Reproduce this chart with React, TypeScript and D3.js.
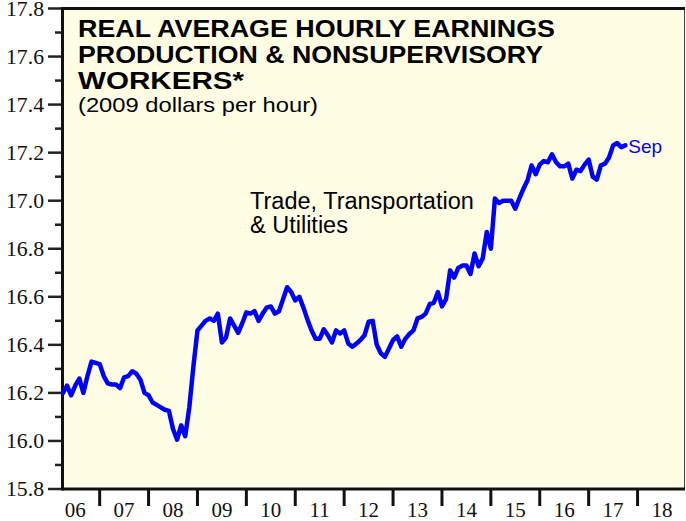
import React from "react";
import * as d3 from "d3";

// Monthly data, Mar 2006 .. Sep 2017
const START_YEAR = 2006;
const START_MONTH = 3;
const values: number[] = [
  16.20, 16.23, 16.19, 16.23, 16.26, 16.20, 16.27, 16.33, 16.325, 16.32,
  16.27, 16.24, 16.235, 16.235, 16.22, 16.265, 16.27, 16.29, 16.28, 16.255,
  16.20, 16.19, 16.16, 16.15, 16.14, 16.13, 16.125, 16.05, 16.005, 16.065,
  16.02, 16.14, 16.31, 16.46, 16.48, 16.50, 16.51, 16.50, 16.53, 16.41,
  16.43, 16.51, 16.48, 16.45, 16.49, 16.535, 16.53, 16.54, 16.50, 16.53,
  16.555, 16.56, 16.53, 16.54, 16.59, 16.64, 16.62, 16.585, 16.60, 16.555,
  16.505, 16.46, 16.425, 16.425, 16.465, 16.44, 16.41, 16.46, 16.447, 16.46,
  16.406, 16.392, 16.405, 16.42, 16.44, 16.496, 16.50, 16.40, 16.365, 16.35,
  16.385, 16.42, 16.435, 16.392, 16.425, 16.445, 16.46, 16.51, 16.516, 16.53,
  16.57, 16.575, 16.62, 16.56, 16.59, 16.71, 16.68, 16.72, 16.73, 16.73,
  16.695, 16.78, 16.727, 16.76, 16.87, 16.80, 17.009, 16.99, 17.00, 17.00,
  17.00, 16.967, 17.01, 17.05, 17.085, 17.147, 17.11, 17.15, 17.165, 17.16,
  17.193, 17.16, 17.143, 17.143, 17.154, 17.092, 17.129, 17.123, 17.15, 17.171,
  17.10, 17.088, 17.147, 17.154, 17.18, 17.23, 17.24, 17.223, 17.23,
];
const yearLabels = ["06", "07", "08", "09", "10", "11", "12", "13", "14", "15", "16", "17", "18"];
const yTicks = [15.8, 16.0, 16.2, 16.4, 16.6, 16.8, 17.0, 17.2, 17.4, 17.6, 17.8];
const yMinor = [15.9, 16.1, 16.3, 16.5, 16.7, 16.9, 17.1, 17.3, 17.5, 17.7];
const titleLines = ["REAL AVERAGE HOURLY EARNINGS", "PRODUCTION & NONSUPERVISORY", "WORKERS*"];
const subtitle = "(2009 dollars per hour)";
const seriesLabel = ["Trade, Transportation", "& Utilities"];
const endLabel = "Sep";

const W = 686, H = 521;
const L = 62.5, R = 684.5, T = 8.5, B = 489;

export default function App() {
  const x = d3.scaleLinear().domain([2006.24, 2018.96]).range([L, R]);
  const y = d3.scaleLinear().domain([15.8, 17.8]).range([B, T]);
  const pts = values.map((v, i) => {
    const m = START_MONTH + i;
    const t = START_YEAR + m / 12;
    return [x(t), y(v)] as [number, number];
  });
  const line = d3.line().curve(d3.curveLinear)(pts) || "";
  const last = pts[pts.length - 1];
  const serif = "'Liberation Serif', 'Times New Roman', serif";
  const sans = "'Liberation Sans', Arial, Helvetica, sans-serif";
  const titleLens = [477, 465, 166];

  return (
    <svg width={W} height={H} style={{ position: "absolute", left: 0, top: 0, background: "#fff" }}>
      <rect x={L} y={T} width={R - L} height={B - T} fill="#FFFEE4" />
      {/* y ticks */}
      {yTicks.map((v) => (
        <g key={"y" + v}>
          <line x1={48} x2={L} y1={y(v)} y2={y(v)} stroke="#222" strokeWidth={2.5} />
          <text x={44} y={y(v) + 7} textAnchor="end" fontFamily={serif} fontSize={20.5} fill="#111"
            textLength={38} lengthAdjust="spacingAndGlyphs">
            {v.toFixed(1)}
          </text>
        </g>
      ))}
      {yMinor.map((v) => (
        <line key={"m" + v} x1={55} x2={L} y1={y(v)} y2={y(v)} stroke="#222" strokeWidth={2.5} />
      ))}
      {/* x ticks */}
      {yearLabels.map((lab, i) => {
        const yr = START_YEAR + i;
        return (
          <g key={lab}>
            {yr > START_YEAR && (
              <line x1={x(yr)} x2={x(yr)} y1={B} y2={506} stroke="#111" strokeWidth={3} />
            )}
            <text x={x(yr + 0.5)} y={517} textAnchor="middle" fontFamily={serif} fontSize={21} fill="#111">
              {lab}
            </text>
          </g>
        );
      })}
      {/* frame */}
      <line x1={R} x2={R} y1={T} y2={B} stroke="#444" strokeWidth={1} />
      <line x1={L} x2={R + 0.5} y1={T} y2={T} stroke="#111" strokeWidth={3} />
      <line x1={L} x2={R + 0.5} y1={B} y2={B} stroke="#111" strokeWidth={3} />
      <line x1={L} x2={L} y1={T - 1.5} y2={B + 1.5} stroke="#111" strokeWidth={3} />
      {/* data line */}
      <path d={line} fill="none" stroke="#0000FF" strokeWidth={4.5} strokeLinejoin="round" strokeLinecap="round" />
      <text x={last[0] + 3} y={153} fontFamily={sans} fontSize={19} fill="#0000FF">{endLabel}</text>
      {/* titles */}
      {titleLines.map((t, i) => (
        <text key={t} x={78} y={37 + i * 26} fontFamily={sans} fontWeight="bold" fontSize={23} fill="#000"
          textLength={titleLens[i]} lengthAdjust="spacingAndGlyphs">
          {t}
        </text>
      ))}
      <text x={78} y={112} fontFamily={sans} fontSize={21} fill="#000" textLength={240} lengthAdjust="spacingAndGlyphs">
        {subtitle}
      </text>
      {seriesLabel.map((t, i) => (
        <text key={t} x={250} y={209 + i * 24} fontFamily={sans} fontSize={23.5} fill="#000">
          {t}
        </text>
      ))}
    </svg>
  );
}
